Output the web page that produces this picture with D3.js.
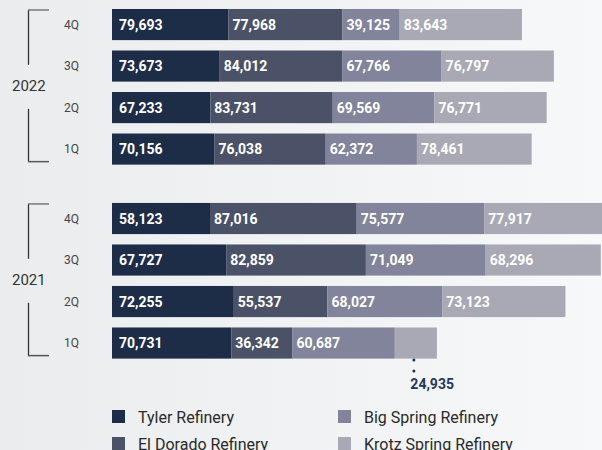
<!DOCTYPE html>
<html>
<head>
<meta charset="utf-8">
<script src="https://cdn.jsdelivr.net/npm/d3@7"></script>
<style>
  html, body { margin: 0; padding: 0; }
  body { width: 602px; height: 450px; overflow: hidden; }
  svg { display: block; }
</style>
</head>
<body>
<svg id="chart" width="602" height="450"></svg>
<script>
// ---- Data ----
const years = ["2022", "2021"];
const quarters = ["4Q", "3Q", "2Q", "1Q"];
const seriesNames = ["Tyler Refinery", "El Dorado Refinery", "Big Spring Refinery", "Krotz Spring Refinery"];
// order: 2022 4Q,3Q,2Q,1Q, 2021 4Q,3Q,2Q,1Q
const tyler     = [79693, 73673, 67233, 70156, 58123, 67727, 72255, 70731];
const elDorado  = [77968, 84012, 83731, 76038, 87016, 82859, 55537, 36342];
const bigSpring = [39125, 67766, 69569, 62372, 75577, 71049, 68027, 60687];
const krotz     = [83643, 76797, 76771, 78461, 77917, 68296, 73123, 24935];
const colors = ["#1e2d47", "#4b5268", "#81849a", "#a9a9b6"];

// ---- Build rows ----
const seriesValues = [tyler, elDorado, bigSpring, krotz];
const rows = [];
years.forEach((yr, yi) => {
  quarters.forEach((q, qi) => {
    const idx = yi * quarters.length + qi;
    rows.push({ year: yr, quarter: q, values: seriesValues.map(s => s[idx]) });
  });
});

const svg = d3.select("#chart");

// background gradient
const defs = svg.append("defs");
const bg = defs.append("linearGradient").attr("id", "bg").attr("x1", "0").attr("x2", "1").attr("y1", "0").attr("y2", "0");
bg.append("stop").attr("offset", "0").attr("stop-color", "#eaecee");
bg.append("stop").attr("offset", "1").attr("stop-color", "#f7f8f9");
svg.append("rect").attr("width", 602).attr("height", 450).attr("fill", "url(#bg)");

// ---- Scales ----
const yYear = d3.scaleBand().domain(years).range([3.8, 363.8]).paddingInner(0.144);
const yQ = d3.scaleBand().domain(quarters).range([0, yYear.bandwidth()]).paddingInner(0.25).paddingOuter(0.125);
const xScales = {
  "2022": d3.scaleLinear().domain([0, 100000]).range([112, 258.2]),
  "2021": d3.scaleLinear().domain([0, 100000]).range([112, 280.6])
};

const font = "Roboto, 'DejaVu Sans', sans-serif";

// ---- Bars ----
const rowG = svg.append("g").selectAll("g.row").data(rows).join("g")
  .attr("class", "row")
  .attr("transform", d => `translate(0,${yYear(d.year) + yQ(d.quarter)})`);

rowG.each(function(d) {
  const g = d3.select(this);
  const x = xScales[d.year];
  let cum = 0;
  const segs = d.values.map((v, i) => {
    const s = { v, i, x0: x(cum), x1: x(cum + v) };
    cum += v;
    return s;
  });
  g.selectAll("rect").data(segs).join("rect")
    .attr("x", s => s.x0)
    .attr("y", 0)
    .attr("width", s => s.x1 - s.x0)
    .attr("height", yQ.bandwidth())
    .attr("fill", s => colors[s.i]);

  segs.forEach(s => {
    const w = s.x1 - s.x0;
    const label = d3.format(",")(s.v);
    if (w >= 50) {
      g.append("text")
        .attr("x", s.x0 + (s.i === 0 ? 7 : 4))
        .attr("y", yQ.bandwidth() / 2)
        .attr("dy", "0.36em")
        .attr("fill", "#ffffff")
        .attr("font-family", font)
        .attr("font-weight", 700)
        .attr("font-size", 14)
        .text(label);
    } else {
      const cx = (s.x0 + s.x1) / 2 - 2;
      const bh = yQ.bandwidth();
      [bh + 1.5, bh + 12.5].forEach(dy => {
        g.append("circle").attr("cx", cx).attr("cy", dy).attr("r", 1.5).attr("fill", "#1e2d47");
      });
      g.append("text")
        .attr("x", cx - 3.5)
        .attr("y", bh + 30.5)
        .attr("fill", "#22385a")
        .attr("font-family", font)
        .attr("font-weight", 700)
        .attr("font-size", 14)
        .text(label);
    }
  });
});

// ---- Quarter labels ----
rowG.append("text")
  .attr("x", 64)
  .attr("y", yQ.bandwidth() / 2)
  .attr("dy", "0.36em")
  .attr("fill", "#444")
  .attr("font-family", font)
  .attr("font-size", 12)
  .text(d => d.quarter);

// ---- Year labels & brackets ----
years.forEach(yr => {
  const top = yYear(yr) + yQ(quarters[0]) + 1;
  const bottom = yYear(yr) + yQ(quarters[quarters.length - 1]) + yQ.bandwidth() - 3;
  const mid = yYear(yr) + yYear.bandwidth() / 2;
  const g = svg.append("g");
  g.append("line").attr("x1", 28.5).attr("x2", 28.5).attr("y1", top).attr("y2", mid - 22)
    .attr("stroke", "#333").attr("stroke-width", 1.3);
  g.append("line").attr("x1", 28.5).attr("x2", 28.5).attr("y1", mid + 22).attr("y2", bottom)
    .attr("stroke", "#333").attr("stroke-width", 1.3);
  g.append("line").attr("x1", 28).attr("x2", 49).attr("y1", top).attr("y2", top)
    .attr("stroke", "#7a7a7a").attr("stroke-width", 1.5);
  g.append("line").attr("x1", 28).attr("x2", 49).attr("y1", bottom).attr("y2", bottom)
    .attr("stroke", "#555").attr("stroke-width", 1.5);
  g.append("text")
    .attr("x", 12)
    .attr("y", mid - 1)
    .attr("dy", "0.36em")
    .attr("fill", "#333")
    .attr("font-family", font)
    .attr("font-size", 15)
    .text(yr);
});

// ---- Legend ----
const legend = svg.append("g");
seriesNames.forEach((name, i) => {
  const col = Math.floor(i / 2), row = i % 2;
  const lx = col === 0 ? 112 : 338;
  const ly = 410 + row * 27;
  legend.append("rect").attr("x", lx).attr("y", ly).attr("width", 13).attr("height", 13).attr("fill", colors[i]);
  legend.append("text")
    .attr("x", lx + 26)
    .attr("y", ly + 12.5)
    .attr("fill", "#2a2a2a")
    .attr("font-family", font)
    .attr("font-size", 16)
    .text(name);
});
</script>
</body>
</html>
